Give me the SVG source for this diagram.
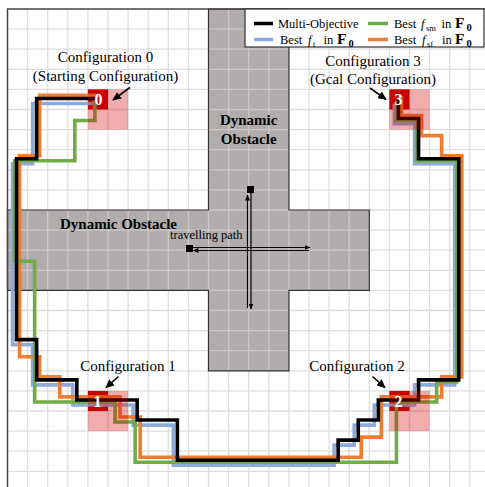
<svg xmlns="http://www.w3.org/2000/svg" width="485" height="487" viewBox="0 0 485 487">
  <style>
    .serif { font-family: "Liberation Serif", "Times New Roman", serif; fill: #000; }
    .lbl { font-size: 15px; text-anchor: middle; }
    .obs-lbl { font-size: 15px; font-weight: bold; text-anchor: middle; }
    .num { font-family: "Liberation Serif", "Times New Roman", serif; font-size: 16px; font-weight: bold; fill: #fff; text-anchor: middle; }
    .grid { stroke: #dedede; stroke-width: 1.3; fill: none; }
    .grid-obs { stroke: #cbc8c8; stroke-width: 1.3; fill: none; }
    .route { fill: none; stroke-width: 3.6; stroke-linejoin: miter; stroke-linecap: butt; }
    .cell { fill: #c80000; }
    .zone { fill: #cc0000; fill-opacity: 0.32; }
    .pointer { stroke: #000; stroke-width: 1.6; fill: none; marker-end: url(#head); }
    .travel { stroke: #000; stroke-width: 1.2; fill: none; marker-end: url(#small-head); }
    .leg { font-size: 12.5px; }
    .bf { font-weight: bold; font-size: 15.5px; }
    .bsub { font-weight: bold; font-size: 10.5px; }
    .sub { font-size: 8.5px; }
  </style>
  <defs>
    <marker id="head" markerUnits="userSpaceOnUse" markerWidth="9" markerHeight="8" refX="8" refY="4" orient="auto">
      <path d="M0,0 L9,4 L0,8 Z" fill="#000"/>
    </marker>
    <marker id="small-head" markerUnits="userSpaceOnUse" markerWidth="6" markerHeight="5" refX="5.5" refY="2.5" orient="auto">
      <path d="M0,0 L6,2.5 L0,5 Z" fill="#000"/>
    </marker>
    <clipPath id="obs-clip">
      <path d="M200,0 H280 V200 H360 V280 H280 V360 H200 V280 H0 V200 H200 Z"/>
    </clipPath>
  </defs>

  <rect width="485" height="487" fill="#fff"/>

  <!-- workspace in grid units: one cell = 20 -->
  <g id="workspace" transform="translate(7.5 9) scale(1.005)">
    <path class="grid" d="M20,0V480M40,0V480M60,0V480M80,0V480M100,0V480M120,0V480M140,0V480M160,0V480M180,0V480M200,0V480M220,0V480M240,0V480M260,0V480M280,0V480M300,0V480M320,0V480M340,0V480M360,0V480M380,0V480M400,0V480M420,0V480M440,0V480M460,0V480
      M0,20H480M0,40H480M0,60H480M0,80H480M0,100H480M0,120H480M0,140H480M0,160H480M0,180H480M0,200H480M0,220H480M0,240H480M0,260H480M0,280H480M0,300H480M0,320H480M0,340H480M0,360H480M0,380H480M0,400H480M0,420H480M0,440H480M0,460H480"/>

    <!-- moving obstacles (union of both sweeps) -->
    <g id="obstacles">
      <path d="M200,0 H280 V200 H360 V280 H280 V360 H200 V280 H0 V200 H200 Z" fill="#b1adad"/>
      <path class="grid-obs" clip-path="url(#obs-clip)" d="M20,0V480M40,0V480M60,0V480M80,0V480M100,0V480M120,0V480M140,0V480M160,0V480M180,0V480M200,0V480M220,0V480M240,0V480M260,0V480M280,0V480M300,0V480M320,0V480M340,0V480
        M0,20H480M0,40H480M0,60H480M0,80H480M0,100H480M0,120H480M0,140H480M0,160H480M0,180H480M0,200H480M0,220H480M0,240H480M0,260H480M0,280H480M0,300H480M0,320H480M0,340H480"/>
      <path d="M200,0 H280 V200 H360 V280 H280 V360 H200 V280 H0 V200 H200 Z" fill="none" stroke="#333" stroke-width="1.2"/>
    </g>

    <!-- configuration cells -->
    <rect class="cell" x="80" y="80" width="20" height="20"/>
    <rect class="cell" x="380" y="80" width="20" height="20"/>
    <rect class="cell" x="80" y="380" width="20" height="20"/>
    <rect class="cell" x="380" y="380" width="20" height="20"/>

    <!-- planned routes -->
    <g id="connectors">
      <polyline class="route" stroke="#8eaadb" transform="translate(-5 4)"
        points="90,90 30,90 30,150 10,150 10,330 30,330 30,370 70,370 70,390 130,390 130,410 170,410 170,450 330,450 330,430 350,430 350,410 370,410 370,390 410,390 410,370 450,370 450,150 410,150 410,110 390,110 390,90"/>
      <polyline class="route" stroke="#ed7d31" transform="translate(2 -4)"
        points="90,90 30,90 30,150 10,150 10,350 30,350 30,370 50,370 50,390 110,390 110,410 130,410 130,450 350,450 350,430 370,430 370,390 430,390 430,370 450,370 450,150 430,150 430,130 410,130 410,110 390,110 390,90"/>
      <polyline class="route" stroke="#70ad47" transform="translate(-3 1)"
        points="90,90 90,110 70,110 70,150 10,150 10,250 30,250 30,390 110,390 110,410 130,410 130,450 390,450 390,390 430,390 430,370 450,370 450,150 410,150 410,110 390,110 390,90"/>
      <polyline class="route" stroke="#000" stroke-width="4" transform="translate(-1 -1)"
        points="90,90 30,90 30,150 10,150 10,330 30,330 30,370 70,370 70,390 130,390 130,410 170,410 170,450 330,450 330,430 350,430 350,410 370,410 370,390 410,390 410,370 450,370 450,150 410,150 410,110 390,110 390,90"/>
    </g>

    <!-- tolerance zones -->
    <rect class="zone" x="80" y="80" width="40" height="40"/>
    <rect class="zone" x="380" y="80" width="40" height="40"/>
    <rect class="zone" x="80" y="380" width="40" height="40"/>
    <rect class="zone" x="380" y="380" width="40" height="40"/>
  </g>

  <!-- frame -->
  <path d="M7.5,487 V9 H485" fill="none" stroke="#444" stroke-width="1.5"/>

  <g id="obstacle-labels">
    <text class="serif obs-lbl" x="248.7" y="125">Dynamic</text>
    <text class="serif obs-lbl" x="248.7" y="144">Obstacle</text>
    <text class="serif obs-lbl" x="118.5" y="228.5">Dynamic Obstacle</text>
  </g>

  <!-- travel path of the obstacles -->
  <g id="travel-path">
    <rect x="247" y="186" width="7" height="7" fill="#000"/>
    <line class="travel" x1="251" y1="193" x2="251" y2="309"/>
    <line class="travel" x1="247.5" y1="308" x2="247.5" y2="195"/>
    <rect x="186" y="245" width="7" height="7" fill="#000"/>
    <line class="travel" x1="193" y1="247.5" x2="310" y2="247.5"/>
    <line class="travel" x1="309" y1="250.5" x2="193" y2="250.5"/>
    <text class="serif" x="170" y="238.5" font-size="12.5">travelling path</text>
  </g>

  <g id="config0">
    <text class="num" x="98.5" y="105">0</text>
    <text class="serif lbl" x="105.5" y="62">Configuration 0</text>
    <text class="serif lbl" x="105.5" y="80.5">(Starting Configuration)</text>
    <line class="pointer" x1="130" y1="87.5" x2="113" y2="100"/>
  </g>

  <g id="config3">
    <text class="num" x="398.5" y="105">3</text>
    <text class="serif lbl" x="373" y="65.5">Configuration 3</text>
    <text class="serif lbl" x="373" y="84">(Gcal Configuration)</text>
    <line class="pointer" x1="370" y1="88" x2="386" y2="99.5"/>
  </g>

  <g id="config1">
    <text class="num" x="97.5" y="406.5">1</text>
    <text class="serif lbl" x="128" y="370.5">Configuration 1</text>
    <line class="pointer" x1="118.5" y1="376.5" x2="106" y2="387.5"/>
  </g>

  <g id="config2">
    <text class="num" x="398.5" y="406.5">2</text>
    <text class="serif lbl" x="357" y="370.5">Configuration 2</text>
    <line class="pointer" x1="372.5" y1="376.5" x2="385" y2="387.5"/>
  </g>

  <g id="legend">
    <rect x="245" y="9" width="239" height="38" fill="#fff" stroke="#333" stroke-width="1.2"/>
    <line x1="254" y1="23.5" x2="273" y2="23.5" stroke="#000" stroke-width="3.5"/>
    <text class="serif leg" x="278" y="27.5">Multi-Objective</text>
    <line x1="368" y1="23.5" x2="388" y2="23.5" stroke="#70ad47" stroke-width="3.5"/>
    <text class="serif leg" y="27.5"><tspan x="394">Best</tspan><tspan x="421" font-style="italic">f</tspan><tspan class="sub" x="426" y="30.5">sm</tspan><tspan x="441.5" y="27.5">in</tspan><tspan class="bf" x="455">F</tspan><tspan class="bsub" x="466.5" y="30.5">0</tspan></text>
    <line x1="254" y1="39.5" x2="273" y2="39.5" stroke="#8eaadb" stroke-width="3.5"/>
    <text class="serif leg" y="43.5"><tspan x="280">Best</tspan><tspan x="308" font-style="italic">f</tspan><tspan class="sub" x="313" y="46.5">t</tspan><tspan x="323.5" y="43.5">in</tspan><tspan class="bf" x="337">F</tspan><tspan class="bsub" x="348.5" y="46.5">0</tspan></text>
    <line x1="368" y1="39.5" x2="388" y2="39.5" stroke="#ed7d31" stroke-width="3.5"/>
    <text class="serif leg" y="43.5"><tspan x="394">Best</tspan><tspan x="422" font-style="italic">f</tspan><tspan class="sub" x="427" y="46.5">sf</tspan><tspan x="442" y="43.5">in</tspan><tspan class="bf" x="455">F</tspan><tspan class="bsub" x="466.5" y="46.5">0</tspan></text>
  </g>
</svg>
